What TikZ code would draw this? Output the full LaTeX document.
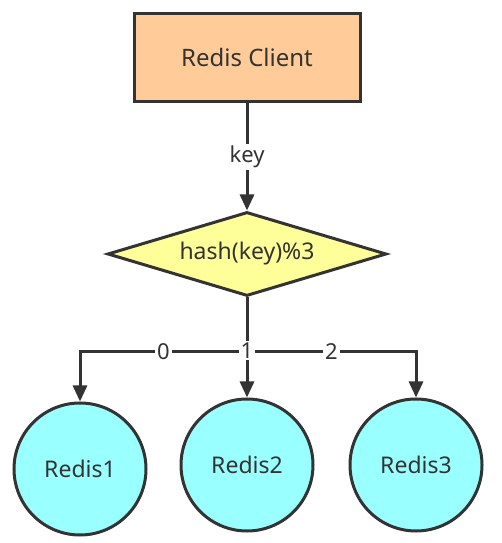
\documentclass[tikz,border=0pt]{standalone}
\usepackage{fontspec}
\setmainfont{Noto Sans}
\usetikzlibrary{shapes.geometric,arrows.meta}
\definecolor{linegray}{HTML}{333333}
\definecolor{clientfill}{HTML}{FFCC99}
\definecolor{hashfill}{HTML}{FFFF99}
\definecolor{redisfill}{HTML}{99FFFF}
\begin{document}
\begin{tikzpicture}[x=1pt,y=1pt,
    box/.style={draw=linegray,line width=3pt,fill=clientfill,rectangle,minimum width=226pt,minimum height=88pt,text=linegray,font=\fontsize{24}{28}\selectfont},
    hashbox/.style={draw=linegray,line width=3pt,fill=hashfill,diamond,aspect=3.3,inner sep=2pt,minimum width=279pt,minimum height=84pt,text=linegray,font=\fontsize{23}{27}\selectfont},
    redis/.style={draw=linegray,line width=3pt,fill=redisfill,circle,minimum size=132pt,text=linegray,font=\fontsize{23}{27}\selectfont},
    link/.style={draw=linegray,line width=3pt,-{Triangle[length=16pt,width=14pt]}},
    lbl/.style={fill=white,inner sep=2pt,text=linegray,font=\fontsize{22}{26}\selectfont}]
        \useasboundingbox (0,0) rectangle (502,543);

        %%%%%%%%% Client %%%%%%%%%
        \node[box] (Client) at (247,485) {Redis Client};

        %%%%%%%%%% Hash %%%%%%%%%%
        \node[hashbox] (Hash) at (247,289) {hash(key)\%3};

        %%%%%%%%% Redis %%%%%%%%%%
        \node[redis] (R1) at (80,74) {Redis1};
        \node[redis] (R2) at (247,78) {Redis2};
        \node[redis] (R3) at (416,78) {Redis3};

        %%%%%%%%% Links %%%%%%%%%%
        \draw[link] (Client.south) -- node[lbl] {key} (Hash.north);
        \draw[link] (Hash.south) -- ++(0,-54) -| node[lbl,pos=0.25] {0} (R1.north);
        \draw[link] (Hash.south) -- ++(0,-54) -| node[lbl,pos=0.25] {2} (R3.north);
        \draw[link] (Hash.south) -- node[lbl,pos=0.53] {1} (R2.north);
    \end{tikzpicture}
\end{document}
